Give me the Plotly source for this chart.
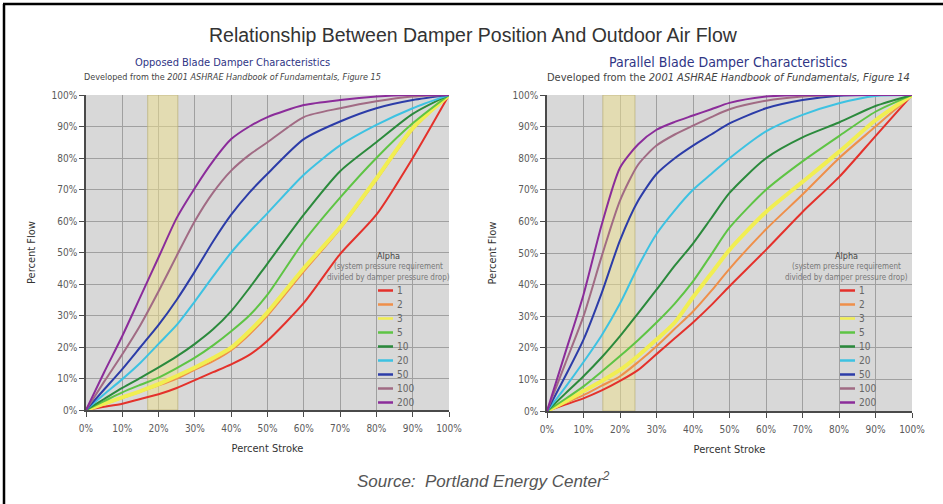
import plotly.graph_objects as go

W, H = 943, 504

stroke = [0, 5, 10, 15, 20, 25, 30, 35, 40, 45, 50, 60, 70, 80, 90, 100]
alphas = ["1", "2", "3", "5", "10", "20", "50", "100", "200"]
colors = ["#e4312b", "#ef8f4a", "#f1ee52", "#5ec444", "#2b8a3c",
          "#3dc2e2", "#2c3ca8", "#a16b84", "#8b2c9a"]
widths = [2, 2, 4, 2, 2, 2, 2, 2, 2]

opposed = {
    "1":   [0, 1, 2, 3.5, 5, 7, 9.5, 12, 14.5, 17.5, 22, 34, 49.5, 62, 80, 100],
    "2":   [0, 1.8, 3.8, 5.8, 7.8, 10, 12.8, 15.5, 19, 24, 30, 44, 57.5, 73, 89, 100],
    "3":   [0, 2, 4, 6, 8.2, 10.8, 13.5, 16.5, 19.8, 25, 31, 45, 58, 73.5, 89.5, 100],
    "5":   [0, 2.8, 5.6, 8, 10.3, 13.3, 16.6, 20.5, 25, 30, 36.6, 53.5, 67.4, 80, 91, 100],
    "10":  [0, 3.5, 7, 10.2, 13.5, 17, 21, 25.6, 31.4, 38.7, 46.5, 62, 75.8, 85, 94, 100],
    "20":  [0, 5, 9.8, 15, 21, 27, 34.5, 42.4, 50, 56.5, 62.5, 74.7, 84, 90.5, 95.8, 100],
    "50":  [0, 6.5, 13, 20, 27, 35, 44, 53.5, 62, 69, 75, 86, 91.6, 95.8, 98.4, 100],
    "100": [0, 9, 17.7, 27, 37.7, 49, 60, 69, 76, 81, 85, 93, 95.8, 98, 99.5, 100],
    "200": [0, 12, 23.5, 36, 48.5, 61, 70.5, 79, 86, 90, 93, 96.8, 98.4, 99.5, 100, 100],
}

parallel = {
    "1":   [0, 2, 4, 6.5, 9.5, 13, 18, 23, 28, 33.5, 39.5, 51, 63, 74, 87, 100],
    "2":   [0, 2.5, 5, 8, 11, 15.5, 20.5, 26, 31.5, 38, 45, 57.5, 68.5, 80, 90, 100],
    "3":   [0, 3, 6.3, 9.5, 13, 17.5, 22.6, 28, 36, 43.5, 51, 63, 72.5, 82, 92, 100],
    "5":   [0, 3.8, 7.8, 12.5, 17.4, 22.5, 28, 34, 41, 49.5, 58, 70, 79, 87, 94.7, 100],
    "10":  [0, 5.5, 11, 17, 23.7, 31, 38.4, 46, 53, 61, 69, 80, 86.6, 91.3, 96.5, 100],
    "20":  [0, 7.5, 15.5, 24, 34, 45.8, 56, 63.5, 70, 75, 80, 88.5, 93.7, 97.4, 99.7, 100],
    "50":  [0, 11, 22.6, 37.4, 54, 66.6, 75, 80, 84, 87.5, 91, 95.8, 98.4, 99.8, 100, 100],
    "100": [0, 15, 30, 49, 66.6, 78, 84, 87.5, 90.3, 93, 95.5, 98.2, 99.5, 100, 100, 100],
    "200": [0, 18.4, 36.8, 59, 77, 84.4, 89, 91.5, 93.5, 95.5, 97.5, 99.5, 100, 100, 100, 100],
}

tick_vals = [0, 10, 20, 30, 40, 50, 60, 70, 80, 90, 100]
tick_text = ["0%", "10%", "20%", "30%", "40%", "50%", "60%", "70%", "80%", "90%", "100%"]

band_opposed = [17, 25.3]
band_parallel = [15.3, 24.1]


def px(x):
    return x / W


def py(y):
    return 1 - y / H


FONT = "DejaVu Sans Condensed, DejaVu Sans, sans-serif"

fig = go.Figure()

for i, a in enumerate(alphas):
    fig.add_trace(go.Scatter(x=stroke, y=opposed[a], mode="lines", name=a,
                             line=dict(color=colors[i], width=widths[i], shape="spline", smoothing=0.7),
                             xaxis="x", yaxis="y", showlegend=False))
for i, a in enumerate(alphas):
    fig.add_trace(go.Scatter(x=stroke, y=parallel[a], mode="lines", name=a,
                             line=dict(color=colors[i], width=widths[i], shape="spline", smoothing=0.7),
                             xaxis="x2", yaxis="y2", showlegend=False))

axis_common = dict(range=[0, 100], tickvals=tick_vals, ticktext=tick_text,
                   showgrid=True, gridcolor="#a0a0a0", gridwidth=1, automargin=False,
                   zeroline=False, showline=True, linecolor="#4a4a4a", linewidth=1.5,
                   ticks="outside", ticklen=5, tickcolor="#4a4a4a",
                   tickfont=dict(family=FONT, size=10, color="#5a5a5a"))

title_font = dict(family=FONT, size=11, color="#333")

fig.update_layout(
    width=W, height=H,
    margin=dict(l=0, r=0, t=0, b=0, autoexpand=False),
    paper_bgcolor="white",
    plot_bgcolor="#d8d8d8",
    showlegend=False,
    xaxis=dict(domain=[px(86), px(449)], anchor="y", ticklabelstandoff=3,
               title=dict(text="Percent Stroke", font=title_font, standoff=12), **axis_common),
    yaxis=dict(domain=[py(410), py(95)], anchor="x",
               title=dict(text="Percent Flow", font=title_font, standoff=14), **axis_common),
    xaxis2=dict(domain=[px(547), px(912)], anchor="y2", ticklabelstandoff=3,
                title=dict(text="Percent Stroke", font=title_font, standoff=12), **axis_common),
    yaxis2=dict(domain=[py(411), py(95)], anchor="x2",
                title=dict(text="Percent Flow", font=title_font, standoff=14), **axis_common),
)

shapes = []
for xref, yref, band in [("x", "y", band_opposed), ("x2", "y2", band_parallel)]:
    shapes.append(dict(type="rect", xref=xref, yref=yref, x0=band[0], x1=band[1], y0=0, y1=100,
                       fillcolor="rgba(238,224,140,0.5)", line=dict(color="rgba(185,175,120,0.7)", width=1),
                       layer="between"))

# frame
shapes.append(dict(type="line", xref="paper", yref="paper", x0=px(4), x1=px(4), y0=0, y1=py(4),
                   line=dict(color="black", width=2.5)))
shapes.append(dict(type="line", xref="paper", yref="paper", x0=px(3), x1=px(943), y0=py(4), y1=py(4),
                   line=dict(color="black", width=2.5)))


def ann(text, x, y, size, color, family=FONT, xanchor="center"):
    return dict(text=text, x=px(x), y=py(y), xref="paper", yref="paper", showarrow=False,
                xanchor=xanchor, yanchor="middle", font=dict(family=family, size=size, color=color))


annotations = [
    ann("Relationship Between Damper Position And Outdoor Air Flow", 473, 35, 19.5, "#333",
        family="Liberation Sans, Arial"),
    ann("<i>Source:  Portland Energy Center<sup>2</sup></i>", 484, 480, 17, "#555",
        family="Liberation Sans, Arial"),
]

subs = [
    (232, "Opposed Blade Damper Characteristics",
     "Developed from the <i>2001 ASHRAE Handbook of Fundamentals, Figure 15</i>", 11, 9),
    (728, "Parallel Blade Damper Characteristics",
     "Developed from the <i>2001 ASHRAE Handbook of Fundamentals, Figure 14</i>", 14, 11),
]
for cx, t1, t2, s1, s2 in subs:
    annotations.append(ann(t1, cx, 62, s1, "#2f3585"))
    annotations.append(ann(t2, cx, 77, s2, "#444"))

# custom legends (layout), placed in pixel positions
for lx, cx in [(378, 388), (840, 846)]:
    annotations.append(ann("Alpha", cx, 256, 9, "#444"))
    annotations.append(ann("(system pressure requirement", cx, 266.5, 8, "#777"))
    annotations.append(ann("divided by damper pressure drop)", cx, 277.5, 8, "#777"))
    for i, a in enumerate(alphas):
        yy = 290.5 + 14 * i
        shapes.append(dict(type="line", xref="paper", yref="paper", x0=px(lx), x1=px(lx + 15),
                           y0=py(yy), y1=py(yy), line=dict(color=colors[i], width=2.5)))
        annotations.append(ann(a, lx + 17, yy, 10, "#666", xanchor="left"))

fig.update_layout(shapes=shapes, annotations=annotations)

fig.write_html("out.html", config={"displayModeBar": False},
               post_script="document.body.style.margin='0';")
